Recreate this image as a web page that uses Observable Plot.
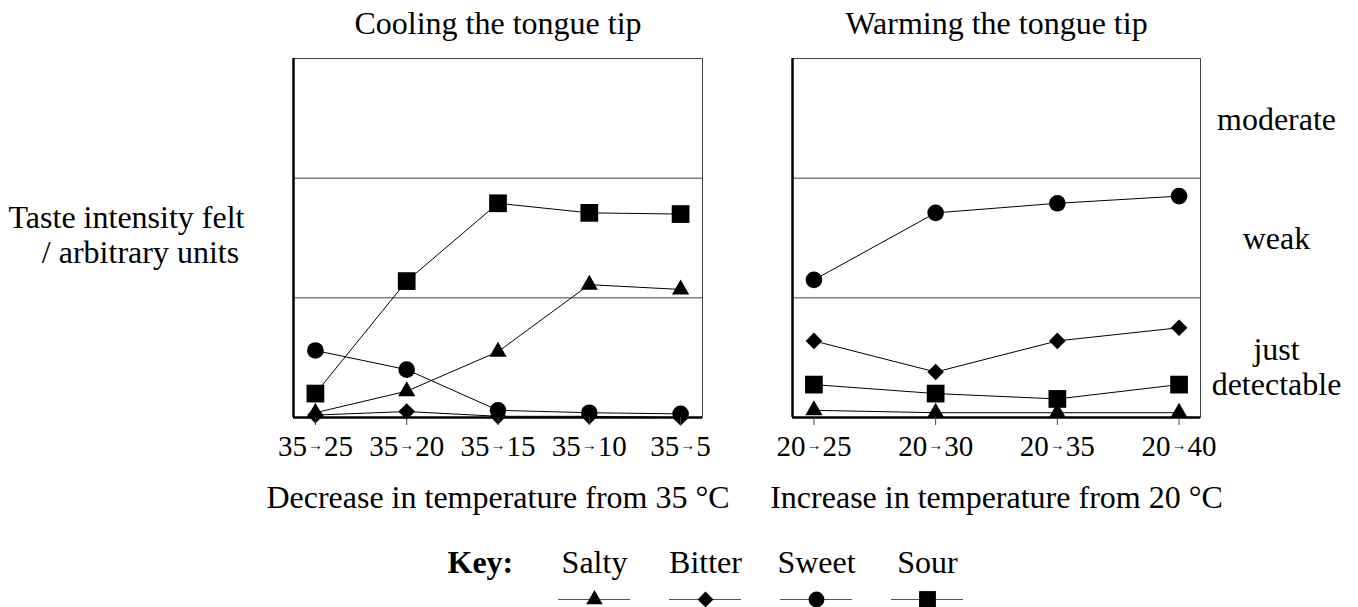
<!DOCTYPE html>
<html><head><meta charset="utf-8">
<script src="https://cdn.jsdelivr.net/npm/d3@7"></script>
<script src="https://cdn.jsdelivr.net/npm/@observablehq/plot@0.6"></script>
<style>
html,body{margin:0;padding:0;background:#fff;}
#wrap{position:relative;width:1358px;height:607px;overflow:hidden;background:#fff;font-family:"Liberation Serif","Times New Roman",serif;}
#wrap > svg{position:absolute;}
</style></head><body><div id="wrap"></div>
<script>
// ---- data ----
const series = ["Salty", "Bitter", "Sweet", "Sour"];
const symbols = ["triangle", "diamond2", "circle", "square"];
const radii = [6.4, 7.5, 8.3, 10];

const coolLabels = ["35→25", "35→20", "35→15", "35→10", "35→5"];
const coolSalty  = [0.04, 0.22, 0.55, 1.11, 1.07];
const coolBitter = [0.02, 0.05, 0.01, 0.01, 0.00];
const coolSweet  = [0.56, 0.40, 0.06, 0.04, 0.03];
const coolSour   = [0.20, 1.14, 1.79, 1.71, 1.70];

const warmLabels = ["20→25", "20→30", "20→35", "20→40"];
const warmSalty  = [0.06, 0.04, 0.04, 0.04];
const warmBitter = [0.64, 0.38, 0.64, 0.75];
const warmSweet  = [1.15, 1.71, 1.79, 1.85];
const warmSour   = [0.275, 0.20, 0.155, 0.275];

const levelNames = ["moderate", "weak", "just\ndetectable"];
const levelPos   = [2.5, 1.5, 0.43];
const levelBreaks = [1, 2];
const yMax = 3;

const titles = ["Cooling the tongue tip", "Warming the tongue tip"];
const xTitles = ["Decrease in temperature from 35 °C", "Increase in temperature from 20 °C"];
const yTitle = ["Taste intensity felt", "/ arbitrary units"];

// ---- drawing ----
const wrap = document.getElementById("wrap");
const FONT = '"Liberation Serif","Times New Roman",serif';
const baseStyle = {fontFamily: FONT, fontSize: "32px", color: "black", background: "transparent", overflow: "visible"};

function styleTicks(svg) {
  d3.select(svg).selectAll('g[aria-label="x-axis tick label"] text').each(function () {
    const s = this.textContent;
    const parts = s.split("→");
    if (parts.length !== 2) return;
    const t = d3.select(this);
    t.text(null);
    t.append("tspan").text(parts[0]);
    t.append("tspan").attr("font-size", 15).attr("dy", -6).attr("dx", 1).text("→");
    t.append("tspan").attr("dy", 6).attr("dx", 1).text(parts[1]);
  });
}

function panel(labels, data, opts, extra) {
  const rows = [];
  series.forEach((s, k) => data[k].forEach((v, i) => rows.push({series: s, k, i, value: v})));
  const xd = [-opts.pad, labels.length - 1 + opts.pad];
  const svg = Plot.plot({
    width: opts.width, height: 540,
    marginLeft: opts.marginLeft, marginRight: opts.marginRight,
    marginTop: 58, marginBottom: 123,
    x: {domain: xd},
    y: {domain: [0, yMax], axis: null},
    style: baseStyle,
    marks: [
      Plot.frame({stroke: "#444", strokeWidth: 1}),
      Plot.ruleY(levelBreaks, {stroke: "#444", strokeWidth: 1}),
      Plot.line(rows, {x: "i", y: "value", z: "series", stroke: "black", strokeWidth: 1}),
      ...series.map((s, k) => Plot.dot(rows.filter(r => r.k === k), {
        x: "i", y: "value", symbol: symbols[k], r: radii[k], fill: "black", stroke: "none"
      })),
      Plot.ruleX([xd[0]], {stroke: "black", strokeWidth: 2.5}),
      Plot.ruleY([0], {stroke: "black", strokeWidth: 2.5}),
      Plot.axisX(d3.range(labels.length), {
        tickFormat: i => labels[i], tickSize: 8, tickPadding: 10, stroke: "#444",
        fill: "black", fontSize: 29, label: null
      }),
      Plot.text([opts.title], {frameAnchor: "top", lineAnchor: "bottom", dy: -25, fill: "black"}),
      Plot.text([opts.xTitle], {frameAnchor: "bottom", lineAnchor: "bottom", dy: 90, fill: "black"}),
      ...extra
    ]
  });
  styleTicks(svg);
  svg.style.left = opts.left + "px";
  svg.style.top = "0px";
  wrap.appendChild(svg);
}

panel(coolLabels, [coolSalty, coolBitter, coolSweet, coolSour],
  {width: 720, marginLeft: 293, marginRight: 18, pad: 0.24, left: 0, title: titles[0], xTitle: xTitles[0]},
  [
    Plot.text([yTitle[0]], {frameAnchor: "left", textAnchor: "middle", lineAnchor: "bottom", dx: -167, dy: -10, fill: "black"}),
    Plot.text([yTitle[1]], {frameAnchor: "left", textAnchor: "middle", lineAnchor: "bottom", dx: -153, dy: 25, fill: "black"})
  ]);

panel(warmLabels, [warmSalty, warmBitter, warmSweet, warmSour],
  {width: 598, marginLeft: 32, marginRight: 158, pad: 0.176, left: 760, title: titles[1], xTitle: xTitles[1]},
  [
    Plot.text(levelNames, {y: (d, i) => levelPos[i], frameAnchor: "right", dx: 76, textAnchor: "middle",
      lineHeight: 1.1, fill: "black"})
  ]);

// ---- legend ----
const legend = Plot.plot({
  width: 1358, height: 80, marginTop: 0, marginBottom: 0, marginLeft: 0, marginRight: 0,
  x: {type: "band", domain: series, range: [537, 984], paddingInner: 0.355, paddingOuter: 0.1775, axis: null},
  y: {domain: [0, 1], range: [72, 45], axis: null},
  style: baseStyle,
  marks: [
    Plot.tickY(series, {x: d => d, y: () => 0, stroke: "#555", strokeWidth: 1}),
    ...series.map((s, k) => Plot.dot([s], {x: d => d, y: () => 0, symbol: symbols[k], r: radii[k] * 0.95, fill: "black", stroke: "none"})),
    Plot.text(series, {x: d => d, y: () => 1, text: d => d, lineAnchor: "bottom", fill: "black"}),
    Plot.text(["Key:"], {frameAnchor: "bottom-left", dx: 447, dy: -35, textAnchor: "start", lineAnchor: "bottom", fontWeight: "bold", fill: "black"})
  ]
});
legend.style.left = "0px";
legend.style.top = "527px";
wrap.appendChild(legend);
</script>
</body></html>
